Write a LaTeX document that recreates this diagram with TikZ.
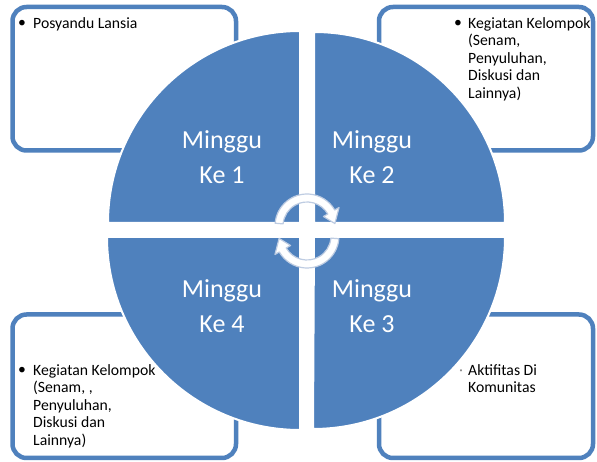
\documentclass[tikz,border=0pt]{standalone}
\usepackage{fontspec}
\setmainfont{Carlito}
\definecolor{ofblue}{RGB}{79,129,189}
\definecolor{arrline}{RGB}{190,204,226}
\begin{document}
\begin{tikzpicture}[x=1pt,y=1pt,
  box/.style={draw=ofblue, line width=4.5pt, rounded corners=14pt},
  pie/.style={fill=ofblue, draw=white, line width=2pt},
  cyc/.style={fill=white, draw=arrline, line width=1.2pt, line join=round},
  big/.style={text=white, font=\fontsize{26}{35}\selectfont, align=center, inner sep=0},
  small/.style={text=black, font=\fontsize{15.7}{17.5}\selectfont, align=left, inner sep=0, anchor=north west},
  bul/.style={text=black, font=\fontsize{15.7}{17.5}\selectfont, inner sep=0, anchor=base}]
\useasboundingbox (0,0) rectangle (597,462);
\fill[white] (0,0) rectangle (597,462);
% boxes
\draw[box] (12.5,311.5) rectangle (236,455);
\draw[box] (379,311.5) rectangle (593,455);
\draw[box] (12.5,4) rectangle (236,147.5);
\draw[box] (379,4) rectangle (593,147.5);
% box texts
\node[bul] (b1) at (22,434) {•};
\node[small] (t1) at (33,445) {Posyandu Lansia};
\node[bul] (b2) at (458,434) {•};
\node[small] (t2) at (468,445) {Kegiatan Kelompok\\(Senam,\\Penyuluhan,\\Diskusi dan\\Lainnya)};
\node[bul] (b4) at (22,87) {•};
\node[small] (t4) at (33,98) {Kegiatan Kelompok\\(Senam, ,\\Penyuluhan,\\Diskusi dan\\Lainnya)};
\node[bul, text=black!45, font=\fontsize{6}{7}\selectfont] (b3) at (461,89) {•};
\node[small] (t3) at (468,98) {Aktifitas Di\\Komunitas};
% pies
\path[pie] (300,239) -- ++(-192,0) arc[start angle=180, end angle=90, radius=192pt] -- cycle;
\path[pie] (314,239) -- ++(191,0) arc[start angle=0, end angle=90, radius=191pt] -- cycle;
\path[pie] (300,225) -- ++(-193,0) arc[start angle=180, end angle=270, radius=193pt] -- cycle;
\path[pie] (314,225) -- ++(191,0) arc[start angle=0, end angle=-90, radius=192pt] -- cycle;
% labels
\node[big] (m1) at (222,305) {Minggu\\Ke 1};
\node[big] (m2) at (372,305) {Minggu\\Ke 2};
\node[big] (m4) at (222,156) {Minggu\\Ke 4};
\node[big] (m3) at (372,156) {Minggu\\Ke 3};
% circular arrows
\coordinate (C1) at (307,236);
\coordinate (C2) at (307,226);
\draw[cyc] ([shift={(175:32pt)}]C1) arc[start angle=175, end angle=30, radius=32pt]
  -- ([shift={(30:37pt)}]C1) -- ([shift={(5:28pt)}]C1) -- ([shift={(30:19pt)}]C1)
  -- ([shift={(30:24pt)}]C1) arc[start angle=30, end angle=175, radius=24pt] -- cycle;
\draw[cyc] ([shift={(-5:32pt)}]C2) arc[start angle=-5, end angle=-150, radius=32pt]
  -- ([shift={(-150:37pt)}]C2) -- ([shift={(-175:28pt)}]C2) -- ([shift={(-150:19pt)}]C2)
  -- ([shift={(-150:24pt)}]C2) arc[start angle=-150, end angle=-5, radius=24pt] -- cycle;
\end{tikzpicture}
\end{document}
